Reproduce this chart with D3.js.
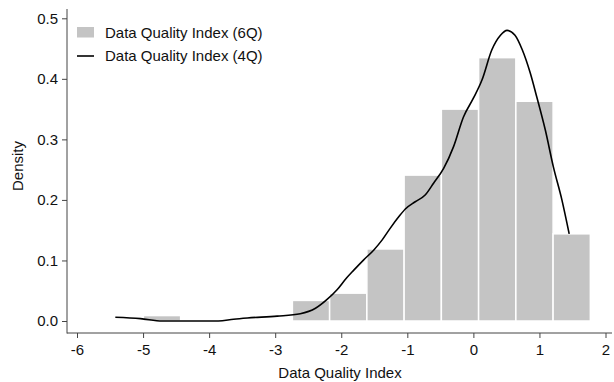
<!DOCTYPE html>
<html>
<head>
<meta charset="utf-8">
<script src="https://cdn.jsdelivr.net/npm/d3@7"></script>
<style>
  body { margin: 0; background: #fff; }
  svg { display: block; font-family: "Liberation Sans", Arial, sans-serif; }
  .axis text { font-size: 15px; fill: #111; }
  .axis line { stroke: #444; }
</style>
</head>
<body>
<div id="chart"></div>
<script>
// histogram (6Q): 12 equal bins starting at binStart
const binStart = -4.995;
const binWidth = 0.5638;
const densities = [0.009, 0, 0, 0, 0.034, 0.046, 0.119, 0.241, 0.350, 0.435, 0.363, 0.144];

// kernel density (4Q)
const kdX = [-5.42, -5.04, -4.71, -4.3, -3.86, -3.63, -3.42, -2.97, -2.62, -2.39, -2.21, -2.06, -1.92, -1.81,
  -1.66, -1.51, -1.38, -1.26, -1.13, -1.03, -0.88, -0.73, -0.60, -0.45, -0.30, -0.15, 0.0, 0.13, 0.28, 0.41,
  0.51, 0.63, 0.74, 0.86, 0.96, 1.09, 1.21, 1.34, 1.45];
const kdY = [0.0062, 0.004, 0.0, 0.0, 0.0, 0.003, 0.005, 0.008, 0.012, 0.021, 0.036, 0.052, 0.071, 0.084,
  0.101, 0.117, 0.134, 0.153, 0.172, 0.185, 0.197, 0.208, 0.228, 0.252, 0.288, 0.337, 0.368, 0.398, 0.448, 0.472,
  0.480, 0.472, 0.448, 0.410, 0.370, 0.315, 0.255, 0.200, 0.144];

const xTicks = [-6, -5, -4, -3, -2, -1, 0, 1, 2];
const yTicks = [0, 0.1, 0.2, 0.3, 0.4, 0.5];
const legendLabels = ["Data Quality Index (6Q)", "Data Quality Index (4Q)"];

const width = 614, height = 382;
const axisX = 67, axisY = 333;

const svg = d3.select("#chart").append("svg")
  .attr("width", width)
  .attr("height", height);

const x = d3.scaleLinear().domain([-6, 2]).range([77, 605.5]);
const y = d3.scaleLinear().domain([0, 0.5]).range([321, 18.3]);

// bars
const bins = densities.map((d, i) => ({ x0: binStart + i * binWidth, x1: binStart + (i + 1) * binWidth, d: d }));
svg.selectAll(".bar")
  .data(bins.filter(b => b.d > 0))
  .enter().append("rect")
  .attr("class", "bar")
  .attr("x", b => x(b.x0))
  .attr("y", b => y(b.d))
  .attr("width", b => x(b.x1) - x(b.x0))
  .attr("height", b => y(0) - y(b.d))
  .attr("fill", "#c4c4c4")
  .attr("stroke", "#fff")
  .attr("stroke-width", 1.5);

// density line
const kd = kdX.map((v, i) => ({ x: v, y: kdY[i] }));
const line = d3.line()
  .x(d => x(d.x))
  .y(d => y(d.y))
  .curve(d3.curveMonotoneX);

svg.append("path")
  .datum(kd)
  .attr("d", line)
  .attr("fill", "none")
  .attr("stroke", "#000")
  .attr("stroke-width", 1.6);

// x axis
const gx = svg.append("g")
  .attr("class", "axis")
  .attr("transform", "translate(0," + axisY + ")")
  .call(d3.axisBottom(x).tickValues(xTicks).tickSize(5).tickSizeOuter(0).tickPadding(6)
    .tickFormat(d3.format("d")));
gx.select(".domain").remove();
gx.selectAll("text").text(d => d < 0 ? "-" + Math.abs(d) : d);
gx.append("line")
  .attr("x1", axisX).attr("x2", 612)
  .attr("stroke", "#444");

// y axis
const gy = svg.append("g")
  .attr("class", "axis")
  .attr("transform", "translate(" + axisX + ",0)")
  .call(d3.axisLeft(y).tickValues(yTicks).tickSize(5).tickSizeOuter(0).tickPadding(4)
    .tickFormat(d3.format(".1f")));
gy.select(".domain").remove();
gy.append("line")
  .attr("y1", 9).attr("y2", axisY + 0.5)
  .attr("stroke", "#444");

// axis titles
svg.append("text")
  .attr("x", 340)
  .attr("y", 378)
  .attr("text-anchor", "middle")
  .attr("font-size", 15)
  .attr("fill", "#111")
  .text("Data Quality Index");

svg.append("text")
  .attr("transform", "translate(23,166) rotate(-90)")
  .attr("text-anchor", "middle")
  .attr("font-size", 15)
  .attr("fill", "#111")
  .text("Density");

// legend
const legend = svg.append("g").attr("transform", "translate(77,0)");
legend.append("rect")
  .attr("x", 0).attr("y", 27)
  .attr("width", 17).attr("height", 10.5)
  .attr("fill", "#c4c4c4");
legend.append("line")
  .attr("x1", 0).attr("x2", 17)
  .attr("y1", 56).attr("y2", 56)
  .attr("stroke", "#000")
  .attr("stroke-width", 1.6);
legend.selectAll(".lg")
  .data(legendLabels)
  .enter().append("text")
  .attr("class", "lg")
  .attr("x", 28)
  .attr("y", (d, i) => 37.5 + i * 23.3)
  .attr("font-size", 15)
  .attr("fill", "#111")
  .text(d => d);
</script>
</body>
</html>
